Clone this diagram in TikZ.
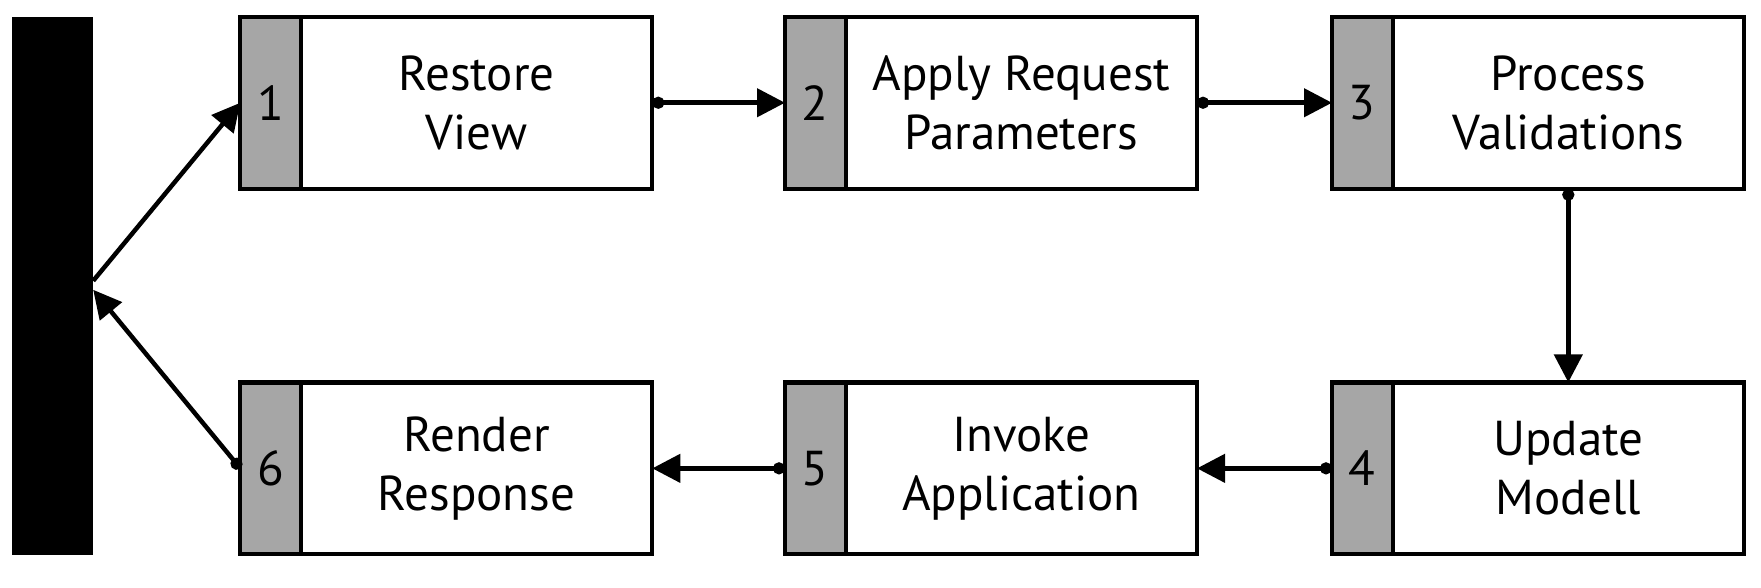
\documentclass[tikz,border=0pt]{standalone}
\usepackage{fontspec}
\setmainfont{PT Sans}
\usetikzlibrary{arrows.meta}
\definecolor{phasegray}{RGB}{166,166,166}
\begin{document}
\begin{tikzpicture}[x=1pt,y=1pt]
		\tikzstyle{every node}+=[inner sep=0pt, outer sep=0pt, font=\fontsize{49}{59}\selectfont]
		\tikzstyle{numbox}=[draw=black, line width=4.2pt, fill=phasegray, minimum width=60.6pt, minimum height=171.9pt, anchor=west]
		\tikzstyle{phasebox}=[draw=black, line width=4.2pt, fill=white, minimum width=351.4pt, minimum height=171.9pt, anchor=west, align=center]
		\tikzstyle{flow}=[line width=4.5pt, {Circle[length=12pt]}-{Triangle[length=28pt,width=28pt]}]
		\useasboundingbox (0,0) rectangle (1761,587);
		\node [fill=black, minimum width=80.8pt, minimum height=538pt] (bar) at (52.8,301.2) {};
		\node [numbox] (n1) at (240.3,484.25) {1};
		\node [phasebox] (p1) at (n1.east) {Restore\\View};
		\node [numbox] (n2) at (785,484.25) {2};
		\node [phasebox] (p2) at (n2.east) {Apply Request\\Parameters};
		\node [numbox] (n3) at (1332,484.25) {3};
		\node [phasebox] (p3) at (n3.east) {Process\\Validations};
		\node [numbox] (n4) at (1332,118.65) {4};
		\node [phasebox] (p4) at (n4.east) {Update\\Modell};
		\node [numbox] (n5) at (785,118.65) {5};
		\node [phasebox] (p5) at (n5.east) {Invoke\\Application};
		\node [numbox] (n6) at (240.3,118.65) {6};
		\node [phasebox] (p6) at (n6.east) {Render\\Response};
		\draw [flow] (p1.east) -- (n2.west);
		\draw [flow] (p2.east) -- (n3.west);
		\draw [flow] (p3.south) -- (p4.north);
		\draw [flow] (n4.west) -- (p5.east);
		\draw [flow] (n5.west) -- (p6.east);
		\draw [flow] (n6.west) -- ([yshift=-4pt]bar.east);
		\draw [line width=4.5pt, -{Triangle[length=28pt,width=28pt]}] ([yshift=5pt]bar.east) -- (n1.west);
	\end{tikzpicture}
\end{document}
